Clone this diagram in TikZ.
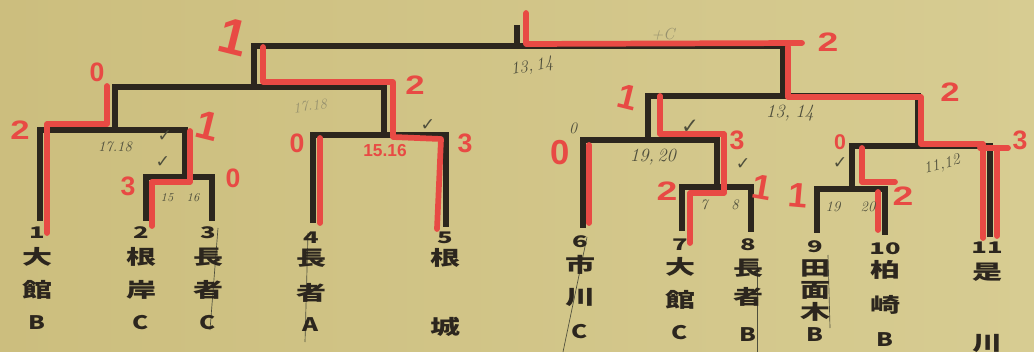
\documentclass[tikz,border=0pt]{standalone}
\usepackage{fontspec}
\usepackage{graphicx}
\newfontfamily\jp{Noto Sans CJK JP}
\newfontfamily\mk{Liberation Sans}
\newfontfamily\djv{DejaVu Sans}
\definecolor{paperL}{RGB}{204,190,126}
\definecolor{paperR}{RGB}{215,204,146}
\definecolor{ink}{RGB}{44,38,30}
\definecolor{mred}{RGB}{232,74,68}
\definecolor{pencil}{RGB}{78,78,60}
\definecolor{faint}{RGB}{150,145,110}
\newcommand\hstretch[2]{\scalebox{#1}[1]{#2}}
\newcommand\jc[1]{\hstretch{1.5}{#1}}
\newcommand\jn[1]{\hstretch{1.6}{#1}}
\newcommand\jl[1]{\hstretch{1.3}{#1}}
\begin{document}
\begin{tikzpicture}[x=0.75pt,y=-0.75pt,
  bk/.style={draw=ink, line width=4pt, line cap=butt, line join=miter},
  rd/.style={draw=mred, line width=4.3pt, line cap=round, line join=round},
  pl/.style={draw=pencil, line width=0.5pt},
  lab/.style={text=ink, inner sep=0pt, font=\jp\bfseries\fontsize{15}{15}\selectfont},
  num/.style={text=ink, inner sep=0pt, font=\jp\bfseries\fontsize{12}{12}\selectfont},
  lat/.style={text=ink, inner sep=0pt, font=\jp\bfseries\fontsize{14}{14}\selectfont},
  rn/.style={text=mred, inner sep=0pt, font=\mk\bfseries\fontsize{20}{20}\selectfont},
  pn/.style={text=pencil, inner sep=0pt, font=\itshape\fontsize{11}{11}\selectfont},
  ck/.style={text=pencil, inner sep=0pt, font=\djv\fontsize{13}{13}\selectfont}]
\useasboundingbox (0,0) rectangle (1034,352);
\shade[left color=paperL, right color=paperR] (0,0) rectangle (1034,352);

% bracket points
\coordinate (L1) at (40,221);
\coordinate (L2) at (146,221);
\coordinate (L3) at (212,221);
\coordinate (L4) at (313,223);
\coordinate (L5) at (446,227);
\coordinate (L6) at (583,228);
\coordinate (L7) at (682,231);
\coordinate (L8) at (751,232);
\coordinate (L9) at (817,233);
\coordinate (L10) at (885,235);
\coordinate (L11) at (990,237);
\coordinate (mA) at (185,177);
\coordinate (mB) at (115,130);
\coordinate (mC) at (384,135);
\coordinate (mD) at (254,87);
\coordinate (mE) at (717,187);
\coordinate (mF) at (648,140);
\coordinate (mG) at (852,189);
\coordinate (mH) at (918,146);
\coordinate (mI) at (783,96);
\coordinate (top) at (517,46);
\coordinate (stub) at (517,25);

% black bracket
\draw[bk] (L2) |- (mA) -| (L3);
\draw[bk] (L1) |- (mB) -| (mA);
\draw[bk] (L4) |- (mC) -| (L5);
\draw[bk] (mB) |- (mD) -| (mC);
\draw[bk] (L7) |- (mE) -| (L8);
\draw[bk] (L6) |- (mF) -| (mE);
\draw[bk] (L9) |- (mG) -| (L10);
\draw[bk] (mG) |- (mH) -| (L11);
\draw[bk] (mF) |- (mI) -| (mH);
\draw[bk] (mD) |- (top) -| (mI);
\draw[bk] (top) -- (stub);

% red winner traces
\draw[rd] (47,233) -- (47,124) -- (107,124) -- (107,86);
\draw[rd] (152,226) -- (152,182) -- (190,182) -- (190,131);
\draw[rd] (320,223) -- (320,138);
\draw[rd] (437,229) -- (441,139) -- (393,137) -- (393,82) -- (263,82) -- (263,47);
\draw[rd] (526,13) -- (526,44) -- (802,43);
\draw[rd] (788,47) -- (788,97) -- (921,97) -- (921,144) -- (983,144) -- (983,238);
\draw[rd] (980,148) -- (1008,148);
\draw[rd] (997,148) -- (997,236);
\draw[rd] (589,145) -- (589,223);
\draw[rd] (690,243) -- (690,193) -- (724,193) -- (724,134) -- (660,134) -- (660,96);
\draw[rd] (862,148) -- (862,182) -- (895,182);
\draw[rd] (878,192) -- (878,230);

% pencil strike lines
\draw[pl] (218,228) -- (210,330);
\draw[pl] (308,233) -- (305,342);
\draw[pl] (587,237) -- (563,352);
\draw[pl] (757,262) -- (757,352);
\draw[pl] (828,255) -- (830,328);

% team labels
\node[num] (n1) at (37,233) {\jn{1}};
\node[lab] (a1) at (37,257) {\jc{大}};
\node[lab] (b1) at (37,290) {\jc{館}};
\node[lat] (c1) at (37,323) {\jl{B}};
\node[num] (n2) at (141,233) {\jn{2}};
\node[lab] (a2) at (141,257) {\jc{根}};
\node[lab] (b2) at (141,290) {\jc{岸}};
\node[lat] (c2) at (141,323) {\jl{C}};
\node[num] (n3) at (208,233) {\jn{3}};
\node[lab] (a3) at (208,257) {\jc{長}};
\node[lab] (b3) at (208,290) {\jc{者}};
\node[lat] (c3) at (208,323) {\jl{C}};
\node[num] (n4) at (311,238) {\jn{4}};
\node[lab] (a4) at (311,258) {\jc{長}};
\node[lab] (b4) at (311,293) {\jc{者}};
\node[lat] (c4) at (311,325) {\jl{A}};
\node[num] (n5) at (445,238) {\jn{5}};
\node[lab] (a5) at (445,258) {\jc{根}};
\node[lab] (c5) at (445,327) {\jc{城}};
\node[num] (n6) at (580,242) {\jn{6}};
\node[lab] (a6) at (580,265) {\jc{市}};
\node[lab] (b6) at (580,297) {\jc{川}};
\node[lat] (c6) at (580,332) {\jl{C}};
\node[num] (n7) at (680,245) {\jn{7}};
\node[lab] (a7) at (680,267) {\jc{大}};
\node[lab] (b7) at (680,300) {\jc{館}};
\node[lat] (c7) at (680,333) {\jl{C}};
\node[num] (n8) at (748,245) {\jn{8}};
\node[lab] (a8) at (748,268) {\jc{長}};
\node[lab] (b8) at (748,297) {\jc{者}};
\node[lat] (c8) at (748,335) {\jl{B}};
\node[num] (n9) at (815,247) {\jn{9}};
\node[lab] (a9) at (815,268) {\jc{田}};
\node[lab] (b9) at (815,290) {\jc{面}};
\node[lab] (d9) at (815,312) {\jc{木}};
\node[lat] (c9) at (815,335) {\jl{B}};
\node[num] (n10) at (885,249) {\jn{10}};
\node[lab] (a10) at (885,270) {\jc{柏}};
\node[lab] (b10) at (885,305) {\jc{崎}};
\node[lat] (c10) at (885,340) {\jl{B}};
\node[num] (n11) at (987,248) {\jn{11}};
\node[lab] (a11) at (987,272) {\jc{是}};
\node[lab] (c11) at (987,343) {\jc{川}};

% red scores
\node[rn, font=\mk\bfseries\fontsize{38}{38}\selectfont, rotate=-14] (s1) at (233,37) {1};
\node[rn] (s2) at (97,72) {0};
\node[rn] (s3) at (20,130) {\hstretch{1.3}{2}};
\node[rn, font=\mk\bfseries\fontsize{30}{30}\selectfont, rotate=-14] (s4) at (208,126) {1};
\node[rn] (s5) at (128,186) {3};
\node[rn] (s6) at (233,178) {0};
\node[rn] (s7) at (297,143) {0};
\node[rn] (s8) at (415,85) {\hstretch{1.3}{2}};
\node[rn] (s9) at (465,143) {3};
\node[rn] (s10) at (828,42) {\hstretch{1.4}{2}};
\node[rn, font=\mk\bfseries\fontsize{26}{26}\selectfont, rotate=-14] (s11) at (628,97) {1};
\node[rn] (s12) at (950,92) {\hstretch{1.3}{2}};
\node[rn, font=\mk\bfseries\fontsize{26}{26}\selectfont] (s13) at (560,153) {0};
\node[rn] (s14) at (737,140) {3};
\node[rn, font=\mk\bfseries\fontsize{16}{16}\selectfont] (s15) at (840,142) {0};
\node[rn] (s16) at (1020,140) {3};
\node[rn] (s17) at (667,191) {\hstretch{1.4}{2}};
\node[rn, font=\mk\bfseries\fontsize{26}{26}\selectfont, rotate=-10] (s18) at (762,187) {1};
\node[rn, font=\mk\bfseries\fontsize{26}{26}\selectfont, rotate=-5] (s19) at (798,195) {1};
\node[rn] (s20) at (903,196) {\hstretch{1.4}{2}};
\node[rn, font=\mk\bfseries\fontsize{13}{13}\selectfont] (s21) at (385,151) {15.16};

% pencil notes
\node[pn] (p1) at (115,147) {17.18};
\node[pn, text=faint, rotate=8] (p2) at (310,106) {17.18};
\node[pn, font=\itshape\fontsize{9}{9}\selectfont] (p3) at (167,198) {15};
\node[pn, font=\itshape\fontsize{9}{9}\selectfont] (p4) at (193,198) {16};
\node[pn, font=\itshape\fontsize{13}{13}\selectfont, rotate=10] (p5) at (532,67) {13,\,14};
\node[pn, text=faint, font=\itshape\fontsize{12}{12}\selectfont] (p6) at (663,34) {+C};
\node[pn, font=\itshape\fontsize{14}{14}\selectfont] (p7) at (653,157) {19,\,20};
\node[pn] (p8) at (704,205) {7};
\node[pn] (p9) at (735,205) {8};
\node[pn, font=\itshape\fontsize{14}{14}\selectfont] (p10) at (790,113) {13,\;14};
\node[pn, font=\itshape\fontsize{12}{12}\selectfont, rotate=15] (p11) at (942,165) {11,12};
\node[pn] (p12) at (833,207) {19};
\node[pn] (p13) at (868,207) {20};
\node[pn, font=\itshape\fontsize{12}{12}\selectfont] (p14) at (573,128) {0};
\node[ck] (k1) at (165,136) {✓};
\node[ck] (k2) at (163,162) {✓};
\node[ck] (k3) at (428,125) {✓};
\node[ck, font=\djv\fontsize{16}{16}\selectfont] (k4) at (690,127) {✓};
\node[ck] (k5) at (743,164) {✓};
\node[ck] (k6) at (840,163) {✓};
\end{tikzpicture}
\end{document}
